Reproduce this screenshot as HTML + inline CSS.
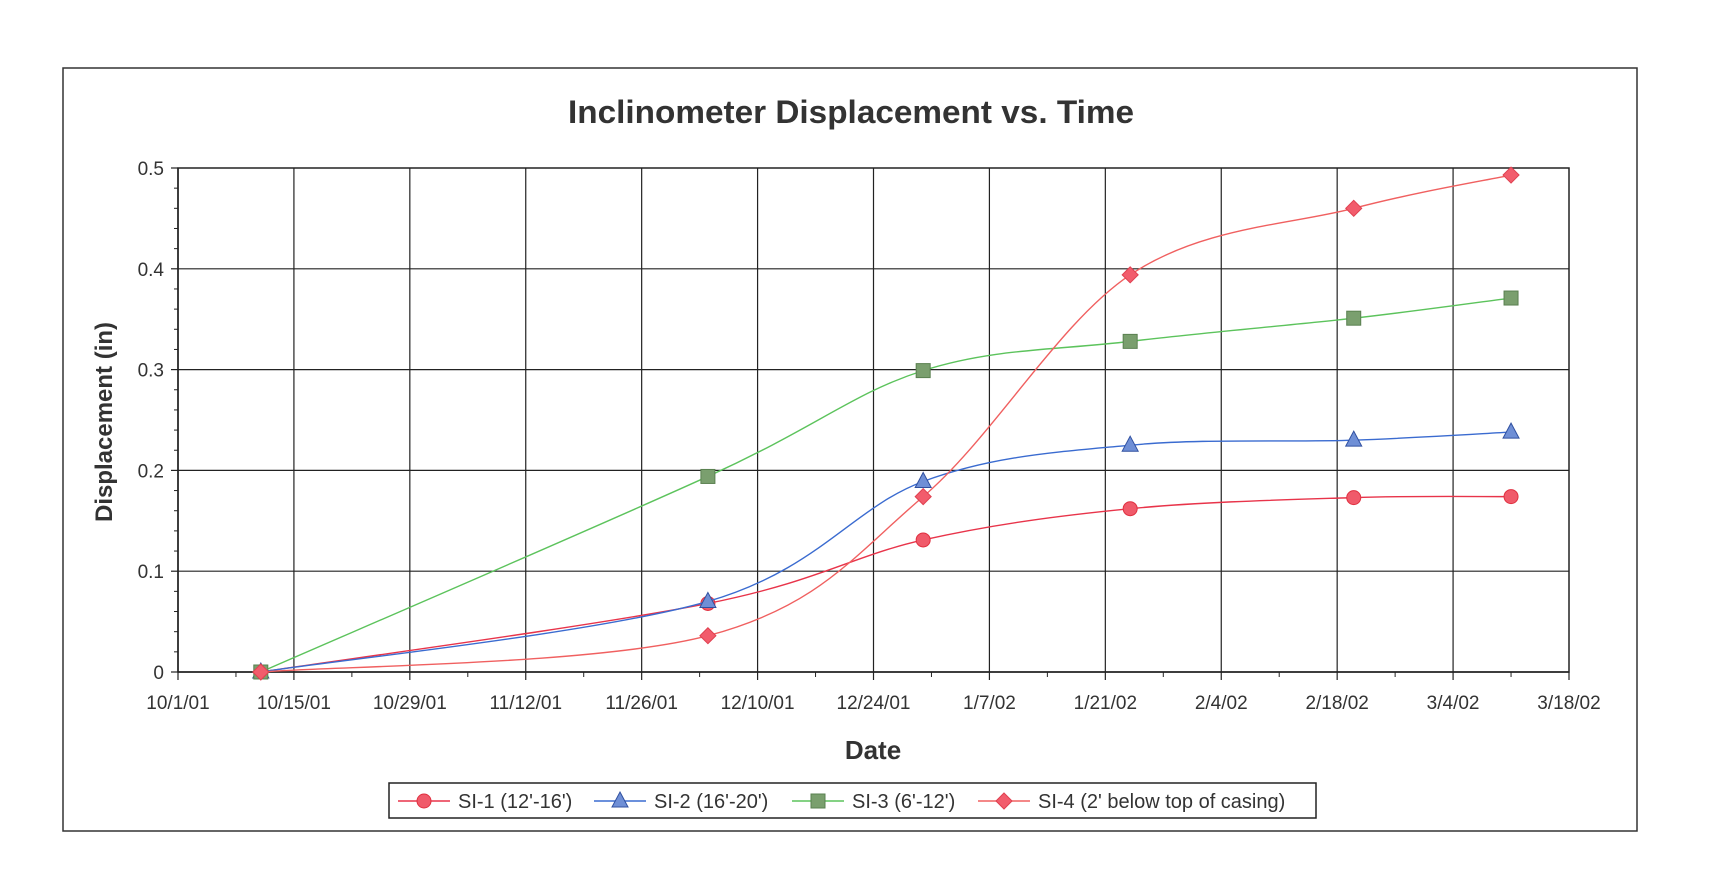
<!DOCTYPE html>
<html><head><meta charset="utf-8"><style>
body{margin:0;background:#fff;}
svg{display:block;font-family:"Liberation Sans",Arial,sans-serif;}
</style></head><body>
<svg id="chart" width="1722" height="896" viewBox="0 0 1722 896">
<rect x="63" y="68" width="1574" height="763" fill="#fff" stroke="#333" stroke-width="1.5"/>
<text x="851" y="123" text-anchor="middle" font-size="32" font-weight="bold" fill="#333" textLength="566" lengthAdjust="spacingAndGlyphs">Inclinometer Displacement vs. Time</text>
<g id="grid"></g>
<g id="axes"></g>
<g id="series"></g>
<text x="873" y="759" text-anchor="middle" font-size="26" font-weight="bold" fill="#333">Date</text>
<text transform="translate(112,422) rotate(-90)" text-anchor="middle" font-size="24" font-weight="bold" fill="#333">Displacement (in)</text>
<g id="legend"></g>
</svg>
<script>
const xTickLabels=["10/1/01","10/15/01","10/29/01","11/12/01","11/26/01","12/10/01","12/24/01","1/7/02","1/21/02","2/4/02","2/18/02","3/4/02","3/18/02"];
const yTickLabels=["0","0.1","0.2","0.3","0.4","0.5"];
const dayOffsets=[10,64,90,115,142,161];
const si1=[0,0.068,0.131,0.162,0.173,0.174];
const si2=[0,0.070,0.189,0.225,0.230,0.238];
const si3=[0,0.194,0.299,0.328,0.351,0.371];
const si4=[0,0.036,0.174,0.394,0.460,0.493];
const seriesNames=["SI-1 (12'-16')","SI-2 (16'-20')","SI-3 (6'-12')","SI-4 (2' below top of casing)"];

const NS="http://www.w3.org/2000/svg";
const L=178,R=1569,T=168,B=672,DAYS=168,YMAX=0.5;
const xs=d=>L+(R-L)*d/DAYS;
const ys=v=>B-(B-T)*v/YMAX;
function mk(tag,attrs,parent){const e=document.createElementNS(NS,tag);for(const k in attrs)e.setAttribute(k,attrs[k]);parent.appendChild(e);return e;}
const grid=document.getElementById('grid'),axes=document.getElementById('axes'),ser=document.getElementById('series'),leg=document.getElementById('legend');
mk('rect',{x:L,y:T,width:R-L,height:B-T,fill:'#fff',stroke:'#222','stroke-width':1.5},grid);
xTickLabels.forEach((lab,i)=>{const x=xs(i*14);
 if(i>0&&i<xTickLabels.length-1){const g=mk('line',{x1:x,x2:x,y1:T,y2:B,stroke:'#222','stroke-width':1.2},grid);}
 mk('line',{x1:x,x2:x,y1:B,y2:B+8,stroke:'#222','stroke-width':1.2},axes);
 if(i<xTickLabels.length-1){const xm=xs(i*14+7);mk('line',{x1:xm,x2:xm,y1:B,y2:B+5,stroke:'#222'},axes);}
 const t=mk('text',{x:x,y:B+37,'text-anchor':'middle','font-size':19,fill:'#333'},axes);t.textContent=lab;
 
});
yTickLabels.forEach((lab,i)=>{const v=i*0.1,y=ys(v);
 if(i>0&&i<yTickLabels.length-1){const g=mk('line',{x1:L,x2:R,y1:y,y2:y,stroke:'#222','stroke-width':1.2},grid);}
 mk('line',{x1:L-7,x2:L,y1:y,y2:y,stroke:'#222','stroke-width':1.2},axes);
 const t=mk('text',{x:L-14,y:y+7,'text-anchor':'end','font-size':19,fill:'#333'},axes);t.textContent=lab;
 
});
for(let k=1;k<25;k++){if(k%5===0)continue;const y=ys(k*0.02);mk('line',{x1:L-4,x2:L,y1:y,y2:y,stroke:'#222'},axes);}
mk('line',{x1:L,x2:L,y1:T,y2:B,stroke:'#222','stroke-width':1.5},axes);
mk('line',{x1:L,x2:R,y1:B,y2:B,stroke:'#222','stroke-width':1.5},axes);

function smooth(p){let d=`M${p[0][0]},${p[0][1]}`;for(let i=0;i<p.length-1;i++){const p0=p[Math.max(i-1,0)],p1=p[i],p2=p[i+1],p3=p[Math.min(i+2,p.length-1)];const t=1/6;
 d+=` C${p1[0]+(p2[0]-p0[0])*t},${p1[1]+(p2[1]-p0[1])*t} ${p2[0]-(p3[0]-p1[0])*t},${p2[1]-(p3[1]-p1[1])*t} ${p2[0]},${p2[1]}`;}return d;}
function marker(type,x,y,parent,fill,stroke){
 if(type==='circle')return mk('circle',{cx:x,cy:y,r:7,fill:fill,stroke:stroke},parent);
 if(type==='tri')return mk('polygon',{points:`${x},${y-9} ${x+8},${y+6} ${x-8},${y+6}`,fill:fill,stroke:stroke},parent);
 if(type==='sq')return mk('rect',{x:x-7,y:y-7,width:14,height:14,fill:fill,stroke:stroke},parent);
 return mk('polygon',{points:`${x},${y-8} ${x+8},${y} ${x},${y+8} ${x-8},${y}`,fill:fill,stroke:stroke},parent);}
const defs=[[si1,'#e8344a','circle','#f05a6a','#e03040'],[si2,'#3a6bd0','tri','#6f8fd6','#3050a0'],[si3,'#5cc35c','sq','#7a9f6e','#5a8050'],[si4,'#f06060','dia','#f25c6c','#e04050']];
const seriesKeys=['si-1','si-2','si-3','si-4'];
defs.forEach((s,si)=>{const pts=s[0].map((v,i)=>[xs(dayOffsets[i]),ys(v)]);
 const g=mk('g',{},ser);
 mk('path',{d:smooth(pts),fill:'none',stroke:s[1],'stroke-width':1.4},g);
 pts.forEach(p=>{const m=marker(s[2],p[0],p[1],g,s[3],s[4]);});
});
mk('rect',{x:389,y:783,width:927,height:35,fill:'#fff',stroke:'#222','stroke-width':1.5},leg);
const lx=[398,594,792,978];
defs.forEach((s,i)=>{const g=mk('g',{},leg);
 const x=lx[i],y=801;mk('line',{x1:x,x2:x+52,y1:y,y2:y,stroke:s[1],'stroke-width':1.4},g);marker(s[2],x+26,y,g,s[3],s[4]);
 const t=mk('text',{x:x+60,y:y+7,'font-size':20,fill:'#333'},g);t.textContent=seriesNames[i];});
</script>
</body></html>
